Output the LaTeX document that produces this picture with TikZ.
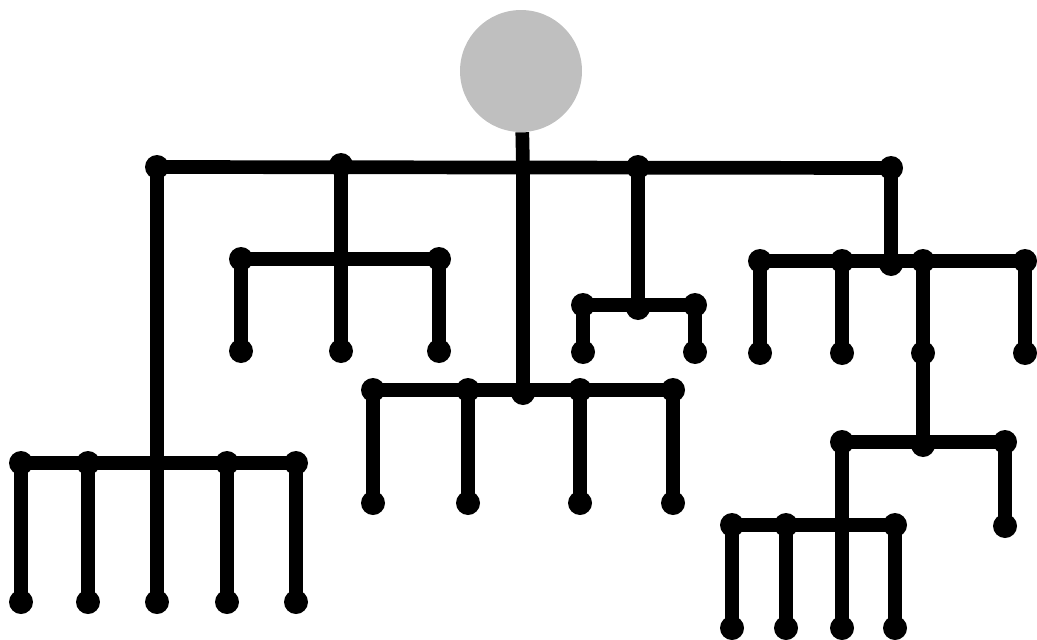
\documentclass[tikz,border=0pt]{standalone}
\begin{document}
\begin{tikzpicture}[
		x=0.02cm, y=-0.02cm,
		d/.style = {circle, fill=black, inner sep=0pt, minimum size=0.48cm},
		j/.style = {circle, fill=black, inner sep=0pt, minimum size=0.34cm},
		rt/.style = {circle, fill=gray!50, inner sep=0pt, minimum size=2.44cm},
		l/.style = {line width=7.8pt}
		]
		\useasboundingbox (0,0) rectangle (1037,639);
		
		%Nodes
		\node[rt]	(r)	at	(521, 71)	{};
		\node[j]	(a0)	at	(523, 167)	{};
		\node[d]	(a1)	at	(157, 167)	{};
		\node[d]	(a2)	at	(341, 165)	{};
		\node[d]	(a3)	at	(638, 167)	{};
		\node[d]	(a4)	at	(891, 168)	{};
		
		\node[d]	(lb1)	at	(21, 463)	{};
		\node[d]	(lb2)	at	(88, 463)	{};
		\node[j]	(lb3)	at	(157, 463)	{};
		\node[d]	(lb4)	at	(227, 463)	{};
		\node[d]	(lb5)	at	(296, 463)	{};
		\node[d]	(ll1)	at	(21, 602)	{};
		\node[d]	(ll2)	at	(88, 602)	{};
		\node[d]	(ll3)	at	(157, 602)	{};
		\node[d]	(ll4)	at	(227, 602)	{};
		\node[d]	(ll5)	at	(296, 602)	{};
		
		\node[d]	(mb1)	at	(241, 259)	{};
		\node[j]	(mb2)	at	(341, 259)	{};
		\node[d]	(mb3)	at	(439, 259)	{};
		\node[d]	(ml1)	at	(241, 351)	{};
		\node[d]	(ml2)	at	(341, 351)	{};
		\node[d]	(ml3)	at	(439, 351)	{};
		
		\node[d]	(cb1)	at	(373, 390)	{};
		\node[d]	(cb2)	at	(468, 390)	{};
		\node[d]	(cb3)	at	(523, 393)	{};
		\node[d]	(cb4)	at	(580, 390)	{};
		\node[d]	(cb5)	at	(673, 390)	{};
		\node[d]	(cl1)	at	(373, 503)	{};
		\node[d]	(cl2)	at	(468, 503)	{};
		\node[d]	(cl4)	at	(580, 503)	{};
		\node[d]	(cl5)	at	(673, 503)	{};
		
		\node[d]	(sb1)	at	(583, 305)	{};
		\node[d]	(sb2)	at	(638, 308)	{};
		\node[d]	(sb3)	at	(695, 305)	{};
		\node[d]	(sl1)	at	(583, 352)	{};
		\node[d]	(sl3)	at	(695, 352)	{};
		
		\node[d]	(rb1)	at	(760, 261)	{};
		\node[d]	(rb2)	at	(842, 261)	{};
		\node[d]	(rb3)	at	(891, 264)	{};
		\node[d]	(rb4)	at	(923, 261)	{};
		\node[d]	(rb5)	at	(1025, 261)	{};
		\node[d]	(rl1)	at	(760, 353)	{};
		\node[d]	(rl2)	at	(842, 353)	{};
		\node[d]	(rl4)	at	(923, 353)	{};
		\node[d]	(rl5)	at	(1025, 353)	{};
		
		\node[d]	(qb1)	at	(842, 442)	{};
		\node[d]	(qb2)	at	(923, 445)	{};
		\node[d]	(qb3)	at	(1005, 442)	{};
		\node[d]	(ql3)	at	(1005, 526)	{};
		
		\node[d]	(pb1)	at	(732, 525)	{};
		\node[d]	(pb2)	at	(786, 525)	{};
		\node[j]	(pb3)	at	(842, 525)	{};
		\node[d]	(pb4)	at	(895, 525)	{};
		\node[d]	(pl1)	at	(732, 628)	{};
		\node[d]	(pl2)	at	(786, 628)	{};
		\node[d]	(pl3)	at	(842, 628)	{};
		\node[d]	(pl4)	at	(895, 628)	{};
		
		%Lines
		\draw[l]	(r)	--	(a0.center);
		\draw[l]	(a1.center)	--	(a4.center);
		\draw[l]	(a1.center)	--	(ll3.center);
		\draw[l]	(lb1.center)	--	(lb5.center);
		\foreach \i in {1,2,4,5}
			\draw[l]	(lb\i.center)	--	(ll\i.center);
		\draw[l]	(a2.center)	--	(ml2.center);
		\draw[l]	(mb1.center)	--	(mb3.center);
		\draw[l]	(mb1.center)	--	(ml1.center);
		\draw[l]	(mb3.center)	--	(ml3.center);
		\draw[l]	(a0.center)	--	(cb3.center);
		\draw[l]	(cb1.center)	--	(cb5.center);
		\foreach \i in {1,2,4,5}
			\draw[l]	(cb\i.center)	--	(cl\i.center);
		\draw[l]	(a3.center)	--	(sb2.center);
		\draw[l]	(sb1.center)	--	(sb3.center);
		\draw[l]	(sb1.center)	--	(sl1.center);
		\draw[l]	(sb3.center)	--	(sl3.center);
		\draw[l]	(a4.center)	--	(rb3.center);
		\draw[l]	(rb1.center)	--	(rb5.center);
		\foreach \i in {1,2,4,5}
			\draw[l]	(rb\i.center)	--	(rl\i.center);
		\draw[l]	(rl4.center)	--	(qb2.center);
		\draw[l]	(qb1.center)	--	(qb3.center);
		\draw[l]	(qb3.center)	--	(ql3.center);
		\draw[l]	(qb1.center)	--	(pl3.center);
		\draw[l]	(pb1.center)	--	(pb4.center);
		\foreach \i in {1,2,4}
			\draw[l]	(pb\i.center)	--	(pl\i.center);
	\end{tikzpicture}
\end{document}
